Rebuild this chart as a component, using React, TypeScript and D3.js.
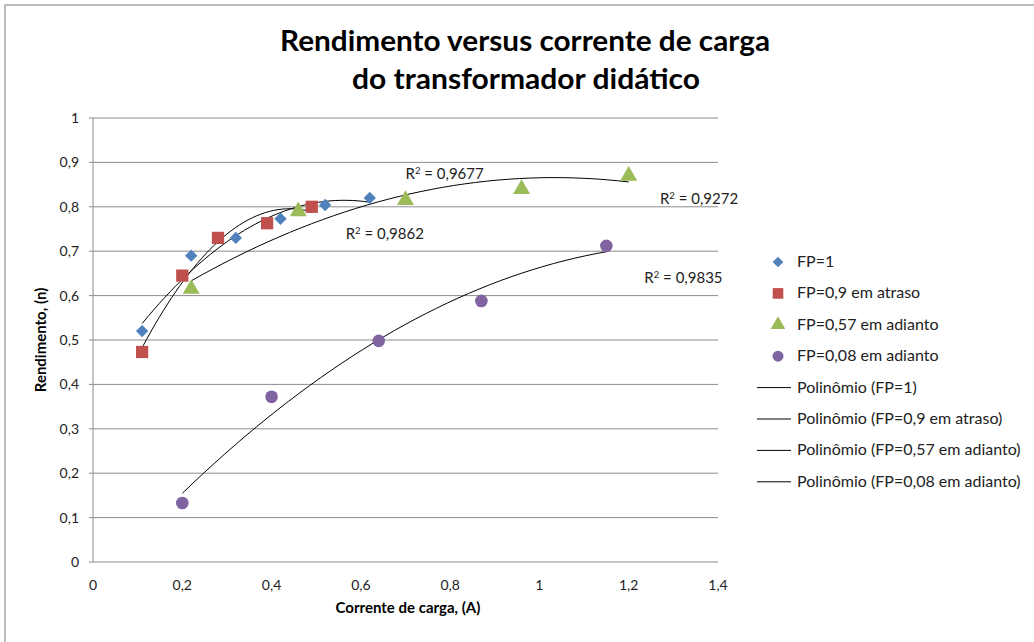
import React from "react";
import * as d3 from "d3";

// dados
const seriesNames = ["FP=1", "FP=0,9 em atraso", "FP=0,57 em adianto", "FP=0,08 em adianto"];
const fp1X = [0.11, 0.22, 0.32, 0.42, 0.52, 0.62];
const fp1Y = [0.52, 0.69, 0.73, 0.773, 0.804, 0.82];
const fp09X = [0.11, 0.2, 0.28, 0.39, 0.49];
const fp09Y = [0.473, 0.645, 0.73, 0.763, 0.8];
const fp057X = [0.22, 0.46, 0.7, 0.96, 1.2];
const fp057Y = [0.615, 0.79, 0.815, 0.84, 0.87];
const fp008X = [0.2, 0.4, 0.64, 0.87, 1.15];
const fp008Y = [0.133, 0.372, 0.498, 0.588, 0.712];
const r2Labels = ["R² = 0,9677", "R² = 0,9272", "R² = 0,9862", "R² = 0,9835"];
const xTicks = [0, 0.2, 0.4, 0.6, 0.8, 1, 1.2, 1.4];
const yTicks = [0, 0.1, 0.2, 0.3, 0.4, 0.5, 0.6, 0.7, 0.8, 0.9, 1];

const colors = ["#4F81BD", "#C0504D", "#9BBB59", "#8064A2"];
const symbols = [d3.symbolSquare, d3.symbolSquare, d3.symbolTriangle, d3.symbolCircle];
const symbolSizes = [76, 150, 125, 125];
const symbolRot = [45, 0, 0, 0];
// posicao dos rotulos R² (coord. de dados)
const r2Pos = [[0.7, 0.862], [1.27, 0.807], [0.566, 0.727], [1.235, 0.628]];

const font = "Lato, 'Open Sans', sans-serif";
const fmt = (v: number) => String(v).replace(".", ",");

// ajuste polinomial de 2a ordem (minimos quadrados)
function polyfit(xs: number[], ys: number[]) {
  const n = 3;
  const A = Array.from({ length: n }, () => new Array(n + 1).fill(0));
  xs.forEach((x, k) => {
    for (let i = 0; i < n; i++) {
      for (let j = 0; j < n; j++) A[i][j] += Math.pow(x, i + j);
      A[i][n] += ys[k] * Math.pow(x, i);
    }
  });
  for (let i = 0; i < n; i++) {
    for (let r = i + 1; r < n; r++) {
      const f = A[r][i] / A[i][i];
      for (let c = i; c <= n; c++) A[r][c] -= f * A[i][c];
    }
  }
  const coef = new Array(n).fill(0);
  for (let i = n - 1; i >= 0; i--) {
    let s = A[i][n];
    for (let j = i + 1; j < n; j++) s -= A[i][j] * coef[j];
    coef[i] = s / A[i][i];
  }
  return (x: number) => coef[0] + coef[1] * x + coef[2] * x * x;
}

export default function App() {
  const width = 1034;
  const height = 642;
  const x = d3.scaleLinear().domain([0, 1.4]).range([93, 718]);
  const y = d3.scaleLinear().domain([0, 1]).range([562, 118]);

  const series = [
    { xs: fp1X, ys: fp1Y },
    { xs: fp09X, ys: fp09Y },
    { xs: fp057X, ys: fp057Y },
    { xs: fp008X, ys: fp008Y },
  ];

  const line = d3.line<[number, number]>().x((d) => x(d[0])).y((d) => y(d[1]));

  const legendY = (i: number) => 262 + i * 31.4;

  return (
    <div style={{ position: "absolute", left: 0, top: 0 }}>
      <svg width={width} height={height} style={{ display: "block", background: "#fff" }}>
        <rect x={5} y={5} width={width + 10} height={height + 10} fill="none" stroke="#a6a6a6" strokeWidth={1.5} />
        <text x={525} y={51} textAnchor="middle" fontFamily={font} fontWeight="bold" fontSize={29} fill="#000" textLength={490} lengthAdjust="spacingAndGlyphs">
          Rendimento versus corrente de carga
        </text>
        <text x={526} y={89} textAnchor="middle" fontFamily={font} fontWeight="bold" fontSize={29} fill="#000" textLength={348} lengthAdjust="spacingAndGlyphs">
          do transformador didático
        </text>

        {yTicks.map((t) => (
          <g key={t}>
            <line x1={89} x2={718} y1={y(t)} y2={y(t)} stroke="#8c8c8c" strokeWidth={1} />
            <text x={79} y={y(t) + 5} textAnchor="end" fontFamily={font} fontSize={14} fill="#222">
              {fmt(t)}
            </text>
          </g>
        ))}
        <line x1={93} x2={93} y1={118} y2={562} stroke="#8c8c8c" strokeWidth={1} />
        {xTicks.map((t) => (
          <text key={t} x={x(t)} y={590} textAnchor="middle" fontFamily={font} fontSize={14} fill="#222">
            {fmt(t)}
          </text>
        ))}

        <text x={408} y={613} textAnchor="middle" fontFamily={font} fontWeight="bold" fontSize={15} fill="#000">
          Corrente de carga, (A)
        </text>
        <text
          transform={`translate(46,340) rotate(-90)`}
          textAnchor="middle"
          fontFamily={font}
          fontWeight="bold"
          fontSize={15}
          fill="#000"
        >
          Rendimento, (n)
        </text>

        {series.map((s, i) => {
          const f = polyfit(s.xs, s.ys);
          const [lo, hi] = d3.extent(s.xs) as [number, number];
          const pts: [number, number][] = d3.range(0, 41).map((k) => {
            const xv = lo + ((hi - lo) * k) / 40;
            return [xv, f(xv)];
          });
          return <path key={"t" + i} d={line(pts) || ""} fill="none" stroke="#000" strokeWidth={1} />;
        })}

        {series.map((s, i) =>
          s.xs.map((xv, k) => (
            <path
              key={i + "-" + k}
              transform={`translate(${x(xv)},${y(s.ys[k])}) rotate(${symbolRot[i]})`}
              d={d3.symbol(symbols[i], symbolSizes[i])() || ""}
              fill={colors[i]}
            />
          ))
        )}

        {r2Labels.map((l, i) => (
          <text key={l} x={x(r2Pos[i][0])} y={y(r2Pos[i][1])} fontFamily={font} fontSize={15} fill="#222">
            R<tspan dy={-5} fontSize={9.5}>2</tspan>
            <tspan dy={5}>{l.slice(2)}</tspan>
          </text>
        ))}

        {seriesNames.map((n, i) => (
          <g key={n} transform={`translate(0,${legendY(i)})`}>
            <path
              transform={`translate(778,0) rotate(${symbolRot[i]})`}
              d={d3.symbol(symbols[i], symbolSizes[i] * 0.75)() || ""}
              fill={colors[i]}
            />
            <text x={797} y={5} fontFamily={font} fontSize={16} fill="#222">
              {n}
            </text>
          </g>
        ))}
        {seriesNames.map((n, i) => (
          <g key={"p" + n} transform={`translate(0,${legendY(i + 4)})`}>
            <line x1={757} x2={791} y1={0} y2={0} stroke="#000" strokeWidth={1} />
            <text x={797} y={5} fontFamily={font} fontSize={16} fill="#222">
              {`Polinômio (${n})`}
            </text>
          </g>
        ))}
      </svg>
    </div>
  );
}
